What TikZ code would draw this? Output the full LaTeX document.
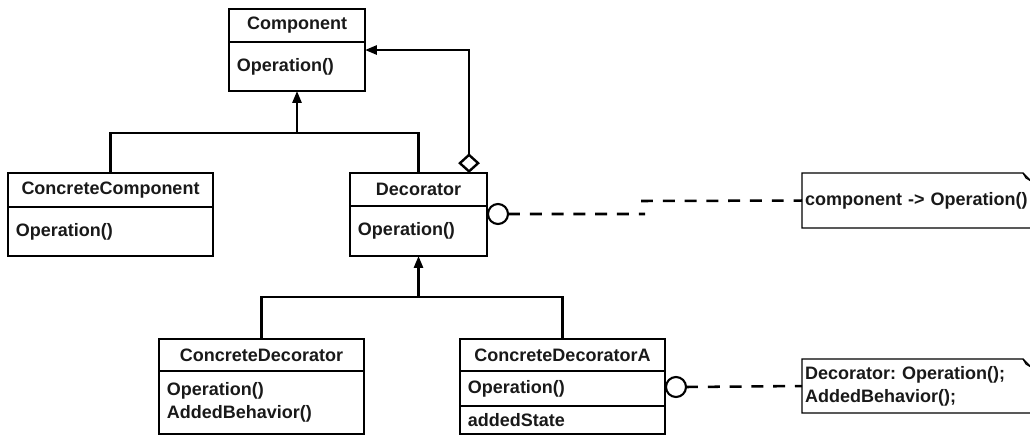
\documentclass[tikz,border=0pt]{standalone}
\usepackage{fontspec}
\setmainfont{Liberation Sans}
\usetikzlibrary{positioning,arrows.meta,calc}

\begin{document}
\begin{tikzpicture}[x=0.025cm, y=-0.025cm,
    every node/.style={font=\fontsize{12.8}{16.4}\selectfont\bfseries\frenchspacing, text=black!90, outer sep=0pt},
    head/.style={draw, line width=0.9pt, inner sep=0pt, align=center},
    body/.style={draw, line width=0.9pt, inner xsep=0.2cm, inner ysep=0pt, align=left},
    note/.style={inner xsep=0.075cm, inner ysep=0pt, align=left},
    conn/.style={line width=1.7pt},
    gen/.style={conn, -{Triangle[length=8.5pt,width=6.5pt]}},
    agg/.style={conn, {Diamond[open,length=14pt,width=15.5pt]}-{Triangle[length=8.5pt,width=6.5pt]}},
    link/.style={line width=1.8pt, dash pattern=on 8.5pt off 7pt},
    lolli/.style={circle, draw, line width=1.5pt, minimum size=0.5cm, inner sep=0pt},
    notebox/.style={line width=0.9pt}]
	  \useasboundingbox (0,0) rectangle (1030,435);

	  % Nodes
	  \node[head, minimum width=3.4cm, minimum height=0.825cm] (Comp) at (297,25.5) {Component};
	  \node[body, text width=3.0cm, minimum height=1.225cm, below=0pt of Comp] (CompOps) {Operation()};

	  \node[head, minimum width=5.125cm, minimum height=0.85cm] (CComp) at (110.5,190) {ConcreteComponent};
	  \node[body, text width=4.725cm, minimum height=1.225cm, below=0pt of CComp] (CCompOps) {Operation()};

	  \node[head, minimum width=3.425cm, minimum height=0.825cm] (Deco) at (418.5,189.5) {Decorator};
	  \node[body, text width=3.025cm, minimum height=1.25cm, below=0pt of Deco] (DecoOps) {Operation()};

	  \node[head, minimum width=5.125cm, minimum height=0.8cm] (CDeco) at (261.5,355) {ConcreteDecorator};
	  \node[body, text width=4.725cm, minimum height=1.575cm, below=0pt of CDeco] (CDecoOps) {Operation()\\AddedBehavior()};

	  \node[head, minimum width=5.125cm, minimum height=0.8cm] (CDecoA) at (562.5,355) {ConcreteDecoratorA};
	  \node[body, text width=4.725cm, minimum height=0.875cm, below=0pt of CDecoA] (CDecoAOps) {Operation()};
	  \node[body, text width=4.725cm, minimum height=0.7cm, below=0pt of CDecoAOps] (CDecoAState) {addedState};

	  \node[lolli] (Lol1) at (498,214) {};
	  \node[lolli] (Lol2) at (676,387) {};

	  \node[note, anchor=north west, text width=5.575cm, minimum height=1.375cm] (Note1) at (802,173) {component -> Operation()};
	  \node[note, anchor=north west, text width=5.575cm, minimum height=1.35cm] (Note2) at (802,359) {Decorator: Operation();\\AddedBehavior();};

	  % Note outlines with folded corner
	  \foreach \n in {Note1,Note2} {
	    \draw[notebox] (\n.south east) -- (\n.south west) -- (\n.north west) -- ($(\n.north east)+(-8,0)$) -- ($(\n.north east)+(0,8)$) -- cycle;
	    \draw[notebox] ($(\n.north east)+(-8,0)$) -- ($(\n.north east)+(-5,5)$) -- ($(\n.north east)+(0,8)$);
	  }

	  % Arrows
	  \coordinate (Hub1) at (297,133);
	  \coordinate (Hub2) at (418.5,297);
	  \draw[conn] (CComp.north) |- (Hub1) -| (Deco.north); % subclasses of Component
	  \draw[gen] (Hub1) -- (CompOps.south);
	  \draw[conn] (CDeco.north) |- (Hub2) -| (CDecoA.north); % subclasses of Decorator
	  \draw[gen] (Hub2) -- (DecoOps.south);
	  \draw[agg] ($(Deco.north east)+(-18,0)$) |- ($(CompOps.north east)+(0,8)$); % Decorator holds a Component
	  \draw[link] (Lol1.east) -- ++(137,0) ++(-4,-13) -- (Note1.west); % dashed link to note, stepped
	  \draw[link] (Lol2.east) -- (Note2.west); % dashed link to note
\end{tikzpicture}
\end{document}
